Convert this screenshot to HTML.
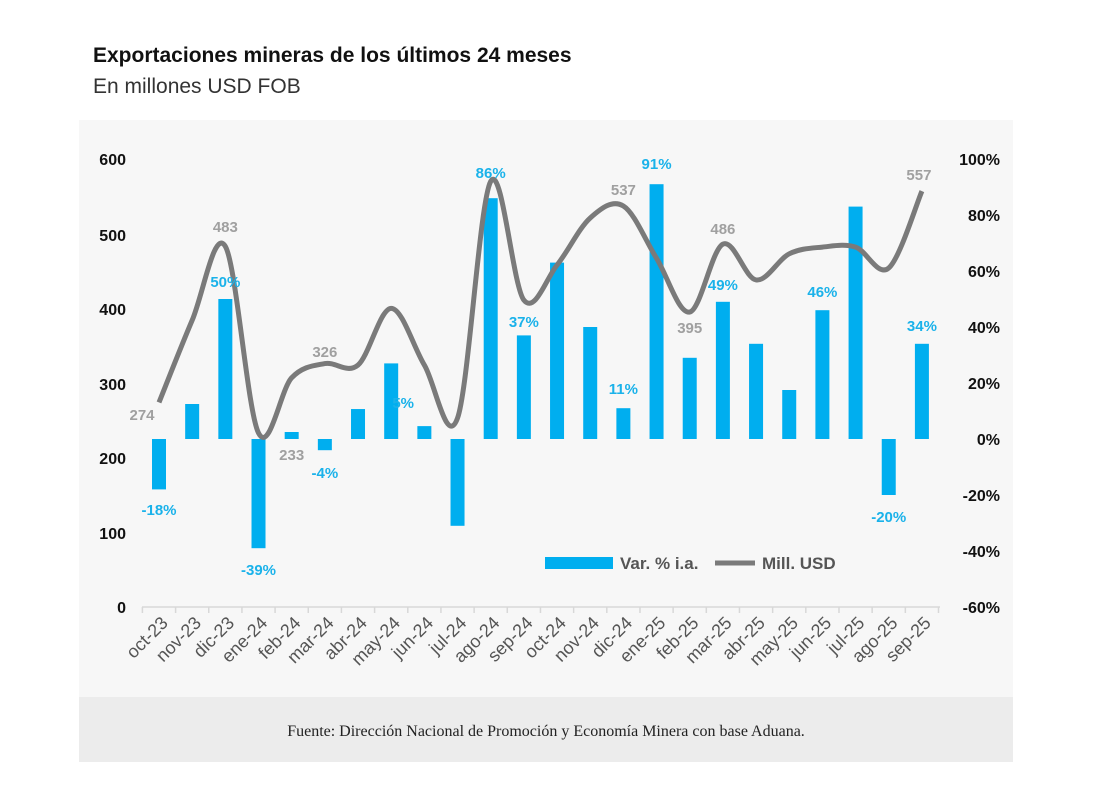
<!DOCTYPE html>
<html><head><meta charset="utf-8"><style>
body{margin:0;background:#fff;width:1116px;height:788px;overflow:hidden;font-family:"Liberation Sans",sans-serif}
</style></head><body>
<svg id="s" width="1116" height="788" xmlns="http://www.w3.org/2000/svg" font-family="Liberation Sans, sans-serif">
<rect x="79" y="120" width="934" height="577" fill="#f7f7f7"/>
<rect x="79" y="697" width="934" height="65" fill="#ececec"/>
<text x="93" y="62" font-size="21" font-weight="bold" fill="#111">Exportaciones mineras de los últimos 24 meses</text>
<text x="93" y="93" font-size="21" fill="#333">En millones USD FOB</text>
<g font-size="16" font-weight="bold" fill="#111" text-anchor="end">
<text x="126" y="165">600</text><text x="126" y="241">500</text><text x="126" y="315">400</text>
<text x="126" y="390">300</text><text x="126" y="464">200</text><text x="126" y="539">100</text><text x="126" y="613">0</text>
</g>
<g font-size="16" font-weight="bold" fill="#111" text-anchor="end">
<text x="1000" y="165">100%</text><text x="1000" y="221">80%</text><text x="1000" y="277">60%</text>
<text x="1000" y="333">40%</text><text x="1000" y="389">20%</text><text x="1000" y="445">0%</text>
<text x="1000" y="501">-20%</text><text x="1000" y="557">-40%</text><text x="1000" y="613">-60%</text>
</g>
<g id="axis"></g><g id="bars"></g>
<path id="line" fill="none" stroke="#7a7a7a" stroke-width="5" stroke-linejoin="round"/>
<g id="labels" font-size="15" font-weight="bold" text-anchor="middle"></g>
<g id="xl" font-size="18" fill="#555"></g>
<rect x="545" y="557" width="68" height="12" fill="#00aeef"/>
<text x="620" y="569" font-size="17" font-weight="bold" fill="#555">Var. % i.a.</text>
<line x1="715" y1="563" x2="755" y2="563" stroke="#7a7a7a" stroke-width="5"/>
<text x="762" y="569" font-size="17" font-weight="bold" fill="#555">Mill. USD</text>
<text x="546" y="736" font-size="16" fill="#222" text-anchor="middle" font-family="Liberation Serif, serif">Fuente: Dirección Nacional de Promoción y Economía Minera con base Aduana.</text>
</svg>
<script>
var ns="http://www.w3.org/2000/svg";
function el(p,t,a,txt){var e=document.createElementNS(ns,t);for(var k in a)e.setAttribute(k,a[k]);if(txt!=null)e.textContent=txt;document.getElementById(p).appendChild(e);return e;}
var m=["oct-23","nov-23","dic-23","ene-24","feb-24","mar-24","abr-24","may-24","jun-24","jul-24","ago-24","sep-24","oct-24","nov-24","dic-24","ene-25","feb-25","mar-25","abr-25","may-25","jun-25","jul-25","ago-25","sep-25"];
var pct=[-18,12.5,50,-39,2.5,-4,10.7,27,4.6,-31,86,37,63,40,11,91,29,49,34,17.5,46,83,-20,34];
var usd=[274,384,483,233,307,326,324,400,324,253,570,411,458,521,537,467,395,486,438,473,482,482,454,557];
var sp=33.17,x0=159;
el("axis","line",{x1:142,y1:607,x2:940,y2:607,stroke:"#d8d8d8","stroke-width":1.5});
for(var i=0;i<=24;i++){var tx=x0-sp/2+i*sp;el("axis","line",{x1:tx,y1:607,x2:tx,y2:613,stroke:"#d8d8d8","stroke-width":1.5});}
var pts=[];
for(var i=0;i<24;i++){
 var x=x0+i*sp,yp=439-pct[i]*2.8,y0=439;
 el("bars","rect",{x:x-7,y:Math.min(yp,y0),width:14,height:Math.abs(yp-y0),fill:"#00aeef"});
 pts.push([x,607-usd[i]*0.7467]);
 el("xl","text",{transform:"translate("+(x+10)+",624) rotate(-45)","text-anchor":"end"},m[i]);
}
var d="M"+pts[0][0]+","+pts[0][1];
for(var i=0;i<pts.length-1;i++){
 var p0=pts[Math.max(i-1,0)],p1=pts[i],p2=pts[i+1],p3=pts[Math.min(i+2,pts.length-1)];
 d+=" C"+(p1[0]+(p2[0]-p0[0])/6)+","+(p1[1]+(p2[1]-p0[1])/6)+" "+(p2[0]-(p3[0]-p1[0])/6)+","+(p2[1]-(p3[1]-p1[1])/6)+" "+p2[0]+","+p2[1];
}
document.getElementById("line").setAttribute("d",d);
var bl=[[0,"-18%",515],[2,"50%",287],[3,"-39%",575],[5,"-4%",478],[7,"5%",408],[10,"86%",178],[11,"37%",327],[14,"11%",394],[15,"91%",169],[17,"49%",290],[20,"46%",297],[22,"-20%",522],[23,"34%",331]];
bl.forEach(function(b){el("labels","text",{x:x0+b[0]*sp+(b[0]==7?12:0),y:b[2],fill:"#1ab2ea"},b[1]);});
var ul=[[0,"274",420],[2,"483",232],[4,"233",460],[5,"326",357],[14,"537",195],[16,"395",333],[17,"486",234],[23,"557",180]];
ul.forEach(function(b){el("labels","text",{x:x0+b[0]*sp+(b[0]==0?-17:b[0]==23?-3:0),y:b[2],fill:"#a0a0a0"},b[1]);});
</script>
</body></html>
